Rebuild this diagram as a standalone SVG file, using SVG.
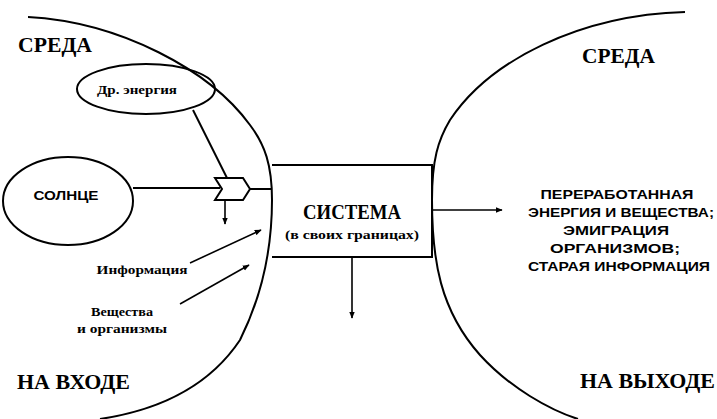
<svg xmlns="http://www.w3.org/2000/svg" width="717" height="419" viewBox="0 0 717 419">
<style>
.ln{fill:none;stroke:#000;stroke-width:2}
.th{fill:none;stroke:#000;stroke-width:1.6}
.big{font-family:"Liberation Serif","DejaVu Serif",serif;font-weight:bold;font-size:22px;fill:#000}
.sm{font-family:"Liberation Serif","DejaVu Serif",serif;font-weight:bold;font-size:13px;fill:#000}
.ss{font-family:"Liberation Sans","DejaVu Sans",sans-serif;font-weight:bold;font-size:13.5px;fill:#000}
</style>
<defs>
<marker id="ah" viewBox="0 0 10 10" refX="9" refY="5" markerWidth="7" markerHeight="7" orient="auto" markerUnits="userSpaceOnUse">
<path d="M0,1 L10,5 L0,9 z" fill="#000"/>
</marker>
</defs>
<g id="env-left">
<path class="ln" d="M28,17 C120,22 210,70 250,125 C265,145 272,165 272,200 C272,240 265,290 240,340 C210,385 160,410 100,419"/>
<text class="big" x="18" y="52" textLength="74" lengthAdjust="spacingAndGlyphs">СРЕДА</text>
<text class="big" x="17" y="389" textLength="113" lengthAdjust="spacingAndGlyphs">НА ВХОДЕ</text>
</g>
<g id="env-right">
<path class="ln" d="M685,12 C580,15 490,60 450,120 C438,140 432,160 432,200 C432,260 440,310 480,355 C510,388 550,410 578,419"/>
<text class="big" x="582" y="63" textLength="73" lengthAdjust="spacingAndGlyphs">СРЕДА</text>
<text class="big" x="580" y="388" textLength="135" lengthAdjust="spacingAndGlyphs">НА ВЫХОДЕ</text>
</g>
<g id="system">
<path class="ln" d="M272,165 L432,165 L432,257 L272,257"/>
<text class="big" x="352" y="219" text-anchor="middle" font-size="19" textLength="98" lengthAdjust="spacingAndGlyphs">СИСТЕМА</text>
<text class="sm" x="352" y="239" text-anchor="middle" textLength="134" lengthAdjust="spacingAndGlyphs">(в своих границах)</text>
</g>
<g id="sun">
<ellipse class="ln" cx="68" cy="201" rx="65" ry="44"/>
<text class="ss" x="66" y="200" text-anchor="middle" font-size="14" textLength="65" lengthAdjust="spacingAndGlyphs">СОЛНЦЕ</text>
</g>
<g id="other-energy">
<ellipse class="ln" cx="146" cy="89" rx="69" ry="25"/>
<text class="sm" x="137" y="94" text-anchor="middle" textLength="80" lengthAdjust="spacingAndGlyphs">Др. энергия</text>
</g>
<g id="gate">
<path class="ln" d="M215,178 L243,178 L250,189 L243,200 L215,200 L222,189 Z"/>
</g>
<g id="labels">
<text class="sm" x="142" y="274" text-anchor="middle" textLength="91" lengthAdjust="spacingAndGlyphs">Информация</text>
<text class="sm" x="122" y="316" text-anchor="middle" textLength="62" lengthAdjust="spacingAndGlyphs">Вещества</text>
<text class="sm" x="122" y="333" text-anchor="middle" textLength="90" lengthAdjust="spacingAndGlyphs">и организмы</text>
<g class="ss" text-anchor="middle">
<text x="617" y="199" textLength="153" lengthAdjust="spacingAndGlyphs">ПЕРЕРАБОТАННАЯ</text>
<text x="621" y="217" textLength="186" lengthAdjust="spacingAndGlyphs">ЭНЕРГИЯ И ВЕЩЕСТВА;</text>
<text x="616" y="235" textLength="106" lengthAdjust="spacingAndGlyphs">ЭМИГРАЦИЯ</text>
<text x="615" y="253" textLength="130" lengthAdjust="spacingAndGlyphs">ОРГАНИЗМОВ;</text>
<text x="619" y="271" textLength="182" lengthAdjust="spacingAndGlyphs">СТАРАЯ ИНФОРМАЦИЯ</text>
</g>
</g>
<g id="connectors">
<line class="ln" x1="133" y1="188" x2="220" y2="188"/>
<line class="ln" x1="193" y1="110" x2="227" y2="178"/>
<line class="ln" x1="250" y1="189" x2="272" y2="189"/>
<line class="th" x1="225" y1="200" x2="225" y2="224" marker-end="url(#ah)"/>
<line class="th" x1="190" y1="263" x2="261" y2="230" marker-end="url(#ah)"/>
<line class="th" x1="180" y1="304" x2="249" y2="265" marker-end="url(#ah)"/>
<line class="th" x1="352" y1="258" x2="352" y2="318" marker-end="url(#ah)"/>
<line class="th" x1="433" y1="210" x2="502" y2="210" marker-end="url(#ah)"/>
</g>
</svg>
